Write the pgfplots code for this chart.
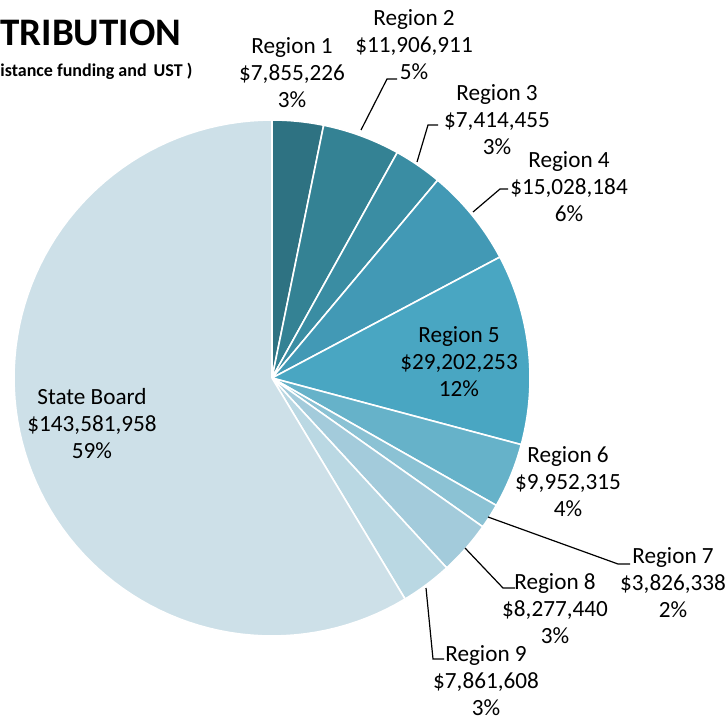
\documentclass[border=0pt]{standalone}
\usepackage{pgfplots}
\usepackage{pgfplotstable}
\pgfplotsset{compat=1.18}
\usepackage{fontspec}
\setmainfont{Carlito}

\definecolor{c0}{RGB}{46,114,130}
\definecolor{c1}{RGB}{52,130,148}
\definecolor{c2}{RGB}{58,141,163}
\definecolor{c3}{RGB}{66,153,181}
\definecolor{c4}{RGB}{73,166,194}
\definecolor{c5}{RGB}{102,178,201}
\definecolor{c6}{RGB}{139,194,212}
\definecolor{c7}{RGB}{163,203,219}
\definecolor{c8}{RGB}{186,216,227}
\definecolor{c9}{RGB}{205,224,232}

% values in millions of dollars
\pgfplotstableread{
idx name value
0 Region1 7.855226
1 Region2 11.906911
2 Region3 7.414455
3 Region4 15.028184
4 Region5 29.202253
5 Region6 9.952315
6 Region7 3.826338
7 Region8 8.277440
8 Region9 7.861608
9 StateBoard 143.581958
}\piedata

% cumulative angles (clockwise from 12 o'clock)
\pgfmathsetmacro{\pietotal}{0}
\pgfplotsforeachungrouped \i in {0,...,9}{%
  \pgfplotstablegetelem{\i}{value}\of\piedata
  \pgfmathsetmacro{\pietotal}{\pietotal+\pgfplotsretval}%
}
\pgfmathsetmacro{\cum}{0}
\pgfplotsforeachungrouped \i in {0,...,9}{%
  \pgfplotstablegetelem{\i}{value}\of\piedata
  \pgfmathsetmacro{\sa}{90-360*(\cum/\pietotal)}%
  \pgfmathsetmacro{\cum}{\cum+\pgfplotsretval}%
  \pgfmathsetmacro{\ea}{90-360*(\cum/\pietotal)}%
  \expandafter\xdef\csname pieS\i\endcsname{\sa}%
  \expandafter\xdef\csname pieE\i\endcsname{\ea}%
}

\begin{document}
\begin{tikzpicture}
\begin{axis}[
  scale only axis, width=363pt, height=359.5pt,
  xmin=0, xmax=726, ymin=0, ymax=719,
  hide axis, clip=false,
]
\pgfplotsinvokeforeach{0,...,9}{%
  \addplot[fill=c#1, draw=white, line width=0.8pt, line join=round,
    domain={\csname pieE#1\endcsname}:{\csname pieS#1\endcsname}, samples=90, variable=\t]
    ({272+258*cos(\t)}, {341+258*sin(\t)}) -- (axis cs:272,341) -- cycle;
}

% leader lines
\draw[black, line width=0.6pt] (axis cs:361,589) -- (axis cs:387,640) -- (axis cs:397,640);
\draw[black, line width=0.6pt] (axis cs:417,557) -- (axis cs:428,594) -- (axis cs:438,594);
\draw[black, line width=0.6pt] (axis cs:473,507) -- (axis cs:500,530) -- (axis cs:508,530);
\draw[black, line width=0.6pt] (axis cs:488,202) -- (axis cs:618,155) -- (axis cs:630,155);
\draw[black, line width=0.6pt] (axis cs:465,171) -- (axis cs:503,131) -- (axis cs:515,131);
\draw[black, line width=0.6pt] (axis cs:426,131) -- (axis cs:433,60) -- (axis cs:444,60);

\tikzset{lab/.style={align=center, inner sep=0pt, font=\fontsize{11.6}{13.5}\selectfont}}
\node[lab] at (axis cs:292,646) {Region 1\\\$7,855,226\\3\%};
\node[lab] at (axis cs:414,674) {Region 2\\\$11,906,911\\5\%};
\node[lab] at (axis cs:497,599) {Region 3\\\$7,414,455\\3\%};
\node[lab] at (axis cs:569,532) {Region 4\\\$15,028,184\\6\%};
\node[lab] at (axis cs:459,357) {Region 5\\\$29,202,253\\12\%};
\node[lab] at (axis cs:568,237) {Region 6\\\$9,952,315\\4\%};
\node[lab] at (axis cs:673,136) {Region 7\\\$3,826,338\\2\%};
\node[lab] at (axis cs:555,110) {Region 8\\\$8,277,440\\3\%};
\node[lab] at (axis cs:486,38) {Region 9\\\$7,861,608\\3\%};
\node[lab] at (axis cs:92,295) {State Board\\\$143,581,958\\59\%};

\node[anchor=base west, inner sep=0pt, font=\fontsize{19.5}{21}\selectfont\bfseries] at (axis cs:0,673) {TRIBUTION};
\node[anchor=base west, inner sep=0pt, font=\fontsize{9}{11}\selectfont\bfseries] at (axis cs:0,642) {istance funding and\, UST )};
\end{axis}
\pgfresetboundingbox
\useasboundingbox (current axis.south west) rectangle (current axis.north east);
\end{tikzpicture}
\end{document}
